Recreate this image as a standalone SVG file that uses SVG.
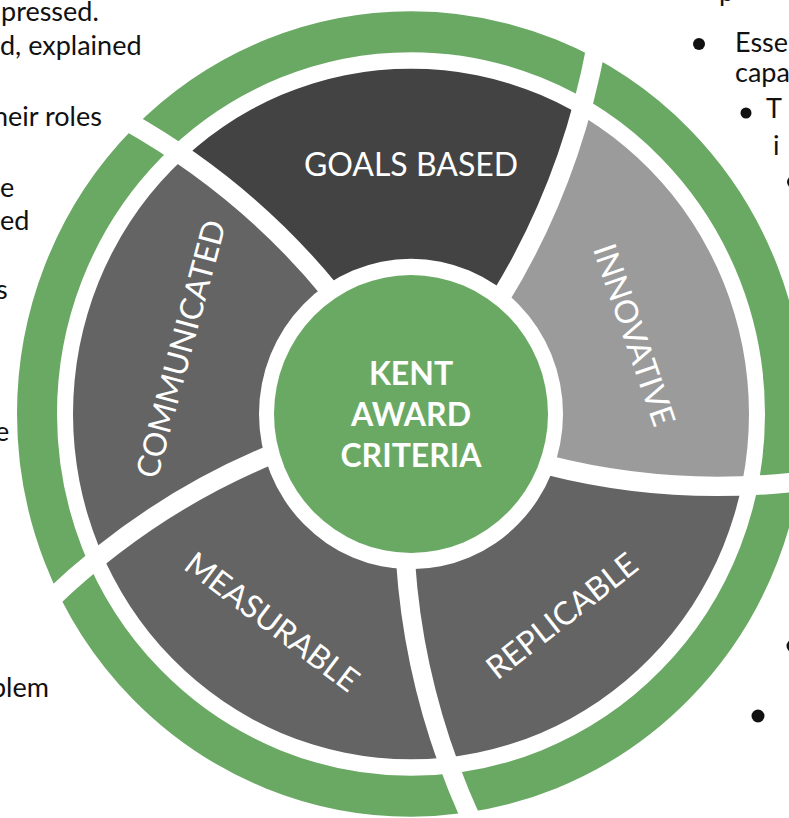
<svg xmlns="http://www.w3.org/2000/svg" width="789" height="818" viewBox="0 0 789 818">
<style>
.lbl{font-family:Lato,"Liberation Sans",sans-serif;font-weight:400;font-size:32px;fill:#fff;text-anchor:middle}
.ctr{font-family:Lato,"Liberation Sans",sans-serif;font-weight:700;font-size:32px;fill:#fff;text-anchor:middle}
.body{font-family:Lato,"Liberation Sans",sans-serif;font-size:27px;fill:#111}
.gap{fill:none;stroke:#fff;stroke-width:19}
.dark{fill:#434343}
.mid{fill:#646464}
.light{fill:#9b9b9b}
.green{fill:#6aa964}
</style>
<defs>
<clipPath id="ann" clipPathUnits="userSpaceOnUse">
<path clip-rule="evenodd" d="M338,0A338,338 0 1,1 -338,0A338,338 0 1,1 338,0ZM152,0A152,152 0 1,0 -152,0A152,152 0 1,0 152,0Z"/>
</clipPath>
</defs>
<rect width="789" height="818" fill="#fff"/>

<g id="outer-ring">
<circle transform="translate(411 414) scale(1 1.022)" r="374" fill="none" stroke="#6aa964" stroke-width="40"/>
</g>

<g id="replicable">
<path class="mid" transform="translate(411 414) scale(1 1.022)" clip-path="url(#ann)" d="M136.14,49.90Q264.12,81.94 399.78,64.82A405,405 0 0,1 61.89,400.24Q3.69,276.51 -5.39,144.90A145,145 0 0,0 136.14,49.90Z"/>
<text class="lbl" transform="translate(562 616) rotate(-38)" y="11">REPLICABLE</text>
</g>

<g id="measurable">
<path class="mid" transform="translate(411 414) scale(1 1.022)" clip-path="url(#ann)" d="M-5.39,144.90Q3.69,276.51 61.89,400.24A405,405 0 0,1 -361.53,182.55Q-261.84,88.96 -139.47,39.65A145,145 0 0,0 -5.39,144.90Z"/>
<text class="lbl" transform="translate(272 622) rotate(37)" y="11">MEASURABLE</text>
</g>

<g id="communicated">
<path class="mid" transform="translate(411 414) scale(1 1.022)" clip-path="url(#ann)" d="M-139.47,39.65Q-261.84,88.96 -361.53,182.55A405,405 0 0,1 -285.33,-287.43Q-165.52,-221.54 -80.81,-120.39A145,145 0 0,0 -139.47,39.65Z"/>
<text class="lbl" transform="translate(181 349) rotate(-75)" y="11">COMMUNICATED</text>
</g>

<g id="goals-based">
<path class="dark" transform="translate(411 414) scale(1 1.022)" clip-path="url(#ann)" d="M-80.81,-120.39Q-165.52,-221.54 -285.33,-287.43A405,405 0 0,1 185.19,-360.18Q159.55,-225.87 89.53,-114.06A145,145 0 0,0 -80.81,-120.39Z"/>
<text class="lbl" x="411" y="176">GOALS BASED</text>
</g>

<g id="innovative">
<path class="light" transform="translate(411 414) scale(1 1.022)" clip-path="url(#ann)" d="M89.53,-114.06Q159.55,-225.87 185.19,-360.18A405,405 0 0,1 399.78,64.82Q264.12,81.94 136.14,49.90A145,145 0 0,0 89.53,-114.06Z"/>
<text class="lbl" transform="translate(634 335) rotate(71)" y="11">INNOVATIVE</text>
</g>

<g id="gaps" transform="translate(411 414) scale(1 1.022)">
<path class="gap" d="M136.14,49.90Q264.12,81.94 399.78,64.82"/>
<path class="gap" d="M-5.39,144.90Q3.69,276.51 61.89,400.24"/>
<path class="gap" d="M-139.47,39.65Q-261.84,88.96 -361.53,182.55"/>
<path class="gap" d="M-80.81,-120.39Q-165.52,-221.54 -285.33,-287.43"/>
<path class="gap" d="M89.53,-114.06Q159.55,-225.87 185.19,-360.18"/>
</g>

<g id="kent-award-criteria">
<ellipse class="green" cx="411" cy="414" rx="137" ry="139"/>
<text class="ctr" x="411" y="385">KENT</text>
<text class="ctr" x="411" y="426">AWARD</text>
<text class="ctr" x="411" y="467">CRITERIA</text>
</g>

<g id="left-text">
<text class="body" x="1" y="21">pressed.</text>
<text class="body" x="0" y="55">d, explained</text>
<text class="body" x="-7" y="126">heir roles</text>
<text class="body" x="0" y="197">e</text>
<text class="body" x="0" y="230">ed</text>
<text class="body" x="-4" y="299">s</text>
<text class="body" x="-5" y="441">e</text>
<text class="body" x="-9" y="697">blem</text>
</g>

<g id="right-text">
<text class="body" x="719" y="1">p</text>
<circle cx="699" cy="44" r="6" fill="#111"/>
<text class="body" x="735" y="52">Esse</text>
<text class="body" x="735" y="82">capa</text>
<circle cx="746" cy="113" r="5.5" fill="#111"/>
<text class="body" x="766" y="118">T</text>
<text class="body" x="773" y="155">i</text>
<circle cx="793" cy="182" r="6" fill="#111"/>
<circle cx="793" cy="646" r="6.5" fill="#111"/>
<circle cx="758" cy="716" r="6.5" fill="#111"/>
</g>
</svg>
